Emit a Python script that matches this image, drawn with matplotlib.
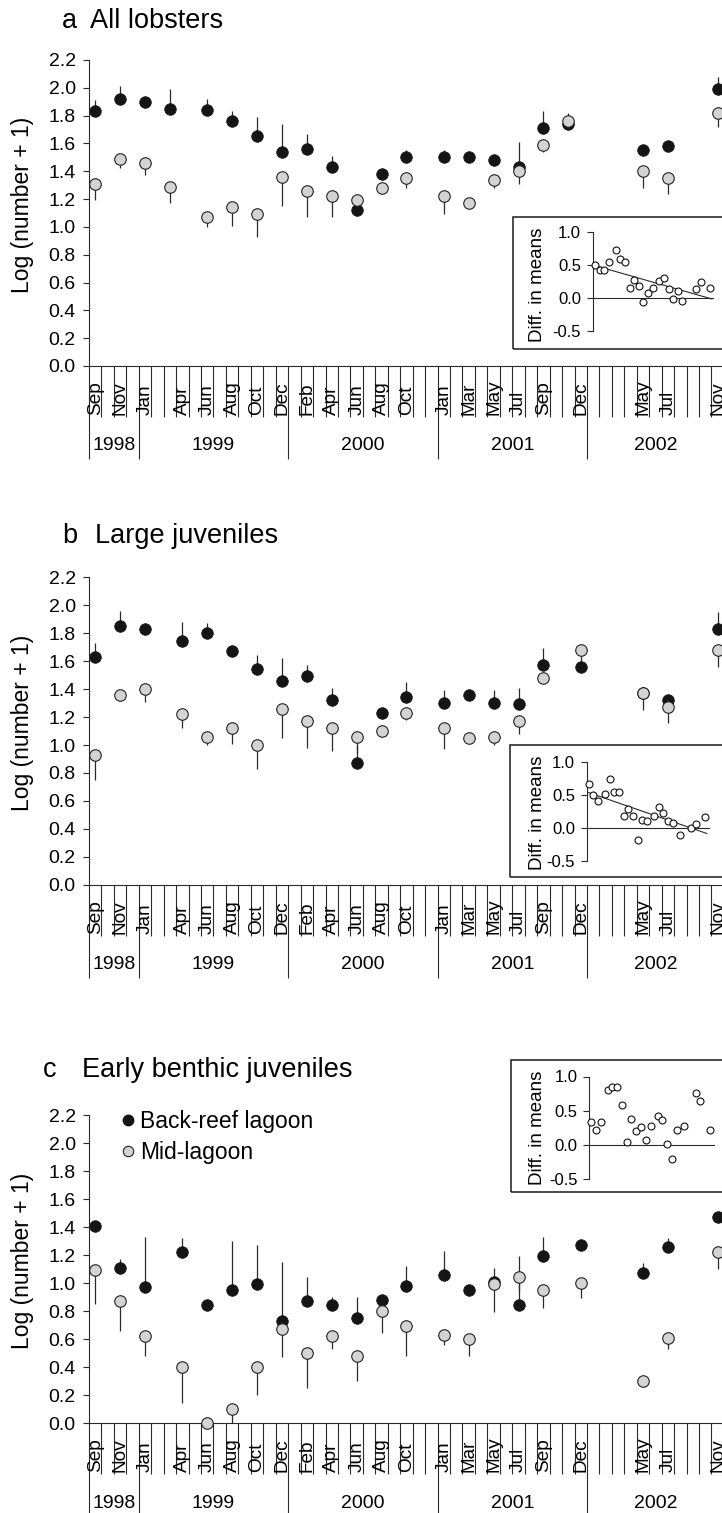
import numpy as np
import matplotlib
matplotlib.use('Agg')
import matplotlib.pyplot as plt
from matplotlib.lines import Line2D
from matplotlib.patches import Rectangle
from matplotlib.transforms import offset_copy

plt.rcParams['font.family'] = ['Liberation Sans', 'DejaVu Sans']

W, H = 722, 1513

# survey months, counted in months from Sep 1998 (slot 0)
month_labels = ['Sep', 'Nov', 'Jan', 'Apr', 'Jun', 'Aug', 'Oct', 'Dec', 'Feb', 'Apr', 'Jun',
                'Aug', 'Oct', 'Jan', 'Mar', 'May', 'Jul', 'Sep', 'Dec', 'May', 'Jul', 'Nov']
month_slots = [0, 2, 4, 7, 9, 11, 13, 15, 17, 19, 21, 23, 25, 28, 30, 32, 34, 36, 39, 44, 46, 50]
# panel a has two samples sitting one month earlier
month_slots_a = [0, 2, 4, 6, 9, 11, 13, 15, 17, 19, 21, 23, 25, 28, 30, 32, 34, 36, 38, 44, 46, 50]
years = ['1998', '1999', '2000', '2001', '2002']
year_bounds = [0, 4, 16, 28, 40, 51]
n_slots = 51

# a  All lobsters
back_a = [1.83, 1.92, 1.90, 1.85, 1.84, 1.76, 1.65, 1.54, 1.56, 1.43, 1.12,
          1.38, 1.50, 1.50, 1.50, 1.48, 1.43, 1.71, 1.74, 1.55, 1.58, 1.99]
se_back_a = [0.08, 0.09, 0.01, 0.14, 0.08, 0.07, 0.14, 0.20, 0.11, 0.08, 0.04,
             0.02, 0.05, 0.05, 0.01, 0.02, 0.18, 0.12, 0.08, 0.02, 0.02, 0.09]
mid_a = [1.31, 1.49, 1.46, 1.29, 1.07, 1.14, 1.09, 1.36, 1.26, 1.22, 1.19,
         1.28, 1.35, 1.22, 1.17, 1.34, 1.40, 1.59, 1.76, 1.40, 1.35, 1.82]
se_mid_a = [0.12, 0.07, 0.09, 0.12, 0.07, 0.13, 0.16, 0.21, 0.19, 0.15, 0.11,
            0.02, 0.07, 0.13, 0.01, 0.06, 0.09, 0.05, 0.02, 0.12, 0.11, 0.10]
diff_a = [0.50, 0.42, 0.42, 0.55, 0.74, 0.60, 0.55, 0.15, 0.28, 0.18, -0.06,
          0.08, 0.15, 0.26, 0.31, 0.13, -0.01, 0.10, -0.04, 0.13, 0.24, 0.15]

# b  Large juveniles
back_b = [1.63, 1.85, 1.83, 1.74, 1.80, 1.67, 1.54, 1.46, 1.49, 1.32, 0.87,
          1.23, 1.34, 1.30, 1.36, 1.30, 1.29, 1.57, 1.56, 1.37, 1.32, 1.83]
se_back_b = [0.10, 0.11, 0.01, 0.14, 0.07, 0.01, 0.10, 0.16, 0.08, 0.09, 0.12,
             0.01, 0.11, 0.09, 0.01, 0.09, 0.12, 0.12, 0.12, 0.01, 0.02, 0.12]
mid_b = [0.93, 1.36, 1.40, 1.22, 1.06, 1.12, 1.00, 1.26, 1.17, 1.12, 1.06,
         1.10, 1.23, 1.12, 1.05, 1.06, 1.17, 1.48, 1.68, 1.37, 1.27, 1.68]
se_mid_b = [0.18, 0.01, 0.09, 0.10, 0.06, 0.11, 0.17, 0.21, 0.19, 0.16, 0.12,
            0.01, 0.05, 0.15, 0.02, 0.06, 0.09, 0.01, 0.02, 0.12, 0.11, 0.12]
diff_b = [0.66, 0.49, 0.41, 0.51, 0.73, 0.54, 0.54, 0.18, 0.28, 0.18, -0.18,
          0.12, 0.10, 0.18, 0.31, 0.23, 0.10, 0.08, -0.10, 0.00, 0.06, 0.16]

# c  Early benthic juveniles
back_c = [1.41, 1.11, 0.97, 1.22, 0.84, 0.95, 0.99, 0.73, 0.87, 0.84, 0.75,
          0.88, 0.98, 1.06, 0.95, 1.01, 0.84, 1.19, 1.27, 1.07, 1.26, 1.47]
se_back_c = [0.01, 0.06, 0.36, 0.10, 0.01, 0.35, 0.28, 0.42, 0.17, 0.06, 0.15,
             0.01, 0.14, 0.17, 0.03, 0.10, 0.35, 0.14, 0.01, 0.07, 0.06, 0.01]
mid_c = [1.09, 0.87, 0.62, 0.40, 0.00, 0.10, 0.40, 0.67, 0.50, 0.62, 0.48,
         0.80, 0.69, 0.63, 0.60, 0.99, 1.04, 0.95, 1.00, 0.30, 0.61, 1.22]
se_mid_c = [0.24, 0.21, 0.14, 0.26, 0.00, 0.10, 0.20, 0.20, 0.25, 0.09, 0.18,
            0.16, 0.21, 0.07, 0.12, 0.20, 0.10, 0.13, 0.11, 0.02, 0.08, 0.12]
diff_c = [0.33, 0.22, 0.33, 0.81, 0.85, 0.85, 0.58, 0.05, 0.38, 0.20, 0.26,
          0.07, 0.28, 0.43, 0.36, 0.01, -0.21, 0.22, 0.28, 0.76, 0.64, 0.22]

BLACK = '#151515'
GREY = '#d3d3d3'
LINE = '#2a2a2a'


def rect(left, top, right, bottom):
    return [left / W, 1 - bottom / H, (right - left) / W, (bottom - top) / H]


fig = plt.figure(figsize=(W / 100, H / 100), dpi=100)

X0 = 89
SLOT = 12.45


def main_panel(top, bottom, slots, back, se_back, mid, se_mid):
    ax = fig.add_axes(rect(X0, top, X0 + n_slots * SLOT, bottom))
    x = np.array(slots) + 0.5
    n = len(x)
    ax.errorbar(x, back, yerr=[np.zeros(n), se_back], fmt='none', ecolor=LINE,
                elinewidth=0.9, capsize=0, zorder=1, clip_on=False)
    ax.errorbar(x, mid, yerr=[se_mid, np.zeros(n)], fmt='none', ecolor=LINE,
                elinewidth=0.9, capsize=0, zorder=1, clip_on=False)
    ax.plot(x, back, 'o', ms=8.3, mfc=BLACK, mec=BLACK, mew=0.6, zorder=2, clip_on=False)
    ax.plot(x, mid, 'o', ms=8.3, mfc=GREY, mec='#222222', mew=0.8, zorder=3, clip_on=False)

    ax.set_xlim(0, n_slots)
    ax.set_ylim(0, 2.2)
    ax.set_yticks(np.arange(0, 2.21, 0.2))
    ax.set_yticklabels(['%.1f' % v for v in np.arange(0, 2.21, 0.2)], fontsize=14)
    ax.tick_params(axis='y', length=4, width=0.8, pad=5.5, color=LINE)
    for s in ['top', 'right']:
        ax.spines[s].set_visible(False)
    for s in ['left', 'bottom']:
        ax.spines[s].set_color(LINE)
        ax.spines[s].set_linewidth(0.8)

    ax.set_xticks(year_bounds)
    ax.set_xticks(range(n_slots + 1), minor=True)
    ax.tick_params(axis='x', which='major', length=67, width=0.8, color=LINE, labelbottom=False)
    ax.tick_params(axis='x', which='minor', length=36.7, width=0.8, color=LINE)

    h = bottom - top
    ax.set_ylabel('Log (number + 1)', fontsize=16.5)
    ax.yaxis.set_label_coords((34 - X0) / (n_slots * SLOT), 0.5 + 8 / h)

    mtrans = offset_copy(ax.get_xaxis_transform(), fig=fig, y=-49, units='dots')
    for xi, lab in zip(month_slots, month_labels):
        ax.text(xi + 0.5, 0, lab, transform=mtrans, rotation=90, ha='center',
                va='bottom', fontsize=13.7)
    ytrans = offset_copy(ax.get_xaxis_transform(), fig=fig, y=-80, units='dots')
    for i, yr in enumerate(years):
        ax.text((year_bounds[i] + year_bounds[i + 1]) / 2, 0, yr, transform=ytrans,
                ha='center', va='center', fontsize=14)
    return ax


def inset(box_left, box_top, axis_x, y0, k, p0, s, slots, diff, trend):
    fig.add_artist(Rectangle((box_left / W, 1 - (box_top + 132) / H), (735 - box_left) / W,
                             132 / H, transform=fig.transFigure, fill=False,
                             lw=1.1, ec='#1a1a1a'))
    top = y0 - 1.05 * k
    bottom = y0 + 0.55 * k
    ax = fig.add_axes(rect(axis_x, top, W, bottom))
    left = -(p0 - axis_x) / s
    ax.set_xlim(left, left + (W - axis_x) / s)
    ax.set_ylim(-0.55, 1.05)
    ax.patch.set_alpha(0)
    for sp in ['top', 'right', 'bottom']:
        ax.spines[sp].set_visible(False)
    ax.spines['left'].set_bounds(-0.5, 1.0)
    ax.spines['left'].set_linewidth(0.8)
    ax.spines['left'].set_color(LINE)
    ax.set_xticks([])
    ax.set_yticks([-0.5, 0.0, 0.5, 1.0])
    ax.set_yticklabels(['-0.5', '0.0', '0.5', '1.0'], fontsize=12)
    ax.tick_params(axis='y', length=4, width=0.8, pad=4.5, color=LINE)
    ax.plot([left, 51.5], [0, 0], color=LINE, lw=0.8, zorder=1)
    x = np.array(slots, dtype=float)
    if trend:
        coef = np.polyfit(x, diff, 1)
        xs = np.array([left, 50.7])
        ax.plot(xs, np.polyval(coef, xs), color=LINE, lw=0.8, zorder=1)
    ax.plot(x, diff, 'o', ms=5, mfc='white', mec='#111111', mew=0.8, zorder=3, clip_on=False)
    ax.set_ylabel('Diff. in means', fontsize=13.5)
    ax.yaxis.set_label_coords((546 - axis_x) / (W - axis_x),
                              (bottom - (box_top + 68)) / (bottom - top))
    return ax


ax_a = main_panel(60, 366, month_slots_a, back_a, se_back_a, mid_a, se_mid_a)
ax_b = main_panel(577, 885, month_slots, back_b, se_back_b, mid_b, se_mid_b)
ax_c = main_panel(1115, 1423, month_slots, back_c, se_back_c, mid_c, se_mid_c)

inset(513, 217, 593, 298, 65.5, 595, 2.3, month_slots_a, diff_a, True)
inset(510, 745, 587, 828, 66.5, 588.7, 2.33, month_slots, diff_b, True)
inset(511, 1060, 589.3, 1145, 68.5, 591, 2.38, month_slots, diff_c, False)

# panel titles
for letter, name, xl, xn, base in [('a', 'All lobsters', 62, 90, 28),
                                   ('b', 'Large juveniles', 62, 95, 543),
                                   ('c', 'Early benthic juveniles', 43, 82, 1077)]:
    fig.text(xl / W, 1 - base / H, letter, fontsize=19.5, va='baseline', ha='left')
    fig.text(xn / W, 1 - base / H, name, fontsize=19.5, va='baseline', ha='left')

handles = [Line2D([], [], ls='none', marker='o', ms=7.5, mfc=BLACK, mec=BLACK),
           Line2D([], [], ls='none', marker='o', ms=7.5, mfc=GREY, mec='#222222', mew=0.8)]
ax_c.legend(handles, ['Back-reef lagoon', 'Mid-lagoon'], loc='upper left',
            bbox_to_anchor=(122 / W, 1 - 1110 / H), bbox_transform=fig.transFigure,
            frameon=False, fontsize=16.5, handlelength=0.5, handletextpad=0.3,
            borderpad=0, borderaxespad=0, labelspacing=0.33)

fig.savefig('out.png', dpi=100)
